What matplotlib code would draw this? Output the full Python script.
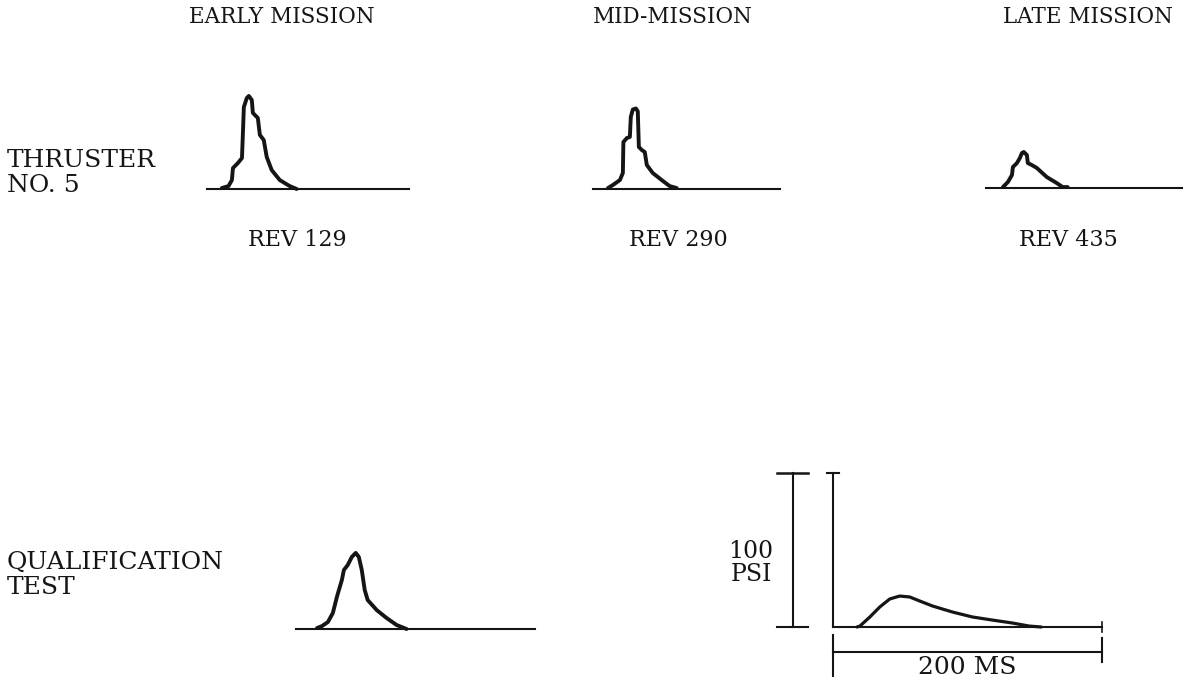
import numpy as np
from matplotlib import pyplot as plt

# chamber pressure traces, time in ms from start of baseline, pressure in psi
early_t = [11, 16, 18.5, 19.3, 23, 26, 26.7, 27.4, 29.6, 31.1, 33.3, 34.1, 37.8, 39.3, 42.2, 44.4, 48.1, 54.1, 61.5, 66.7]
early_p = [0.6, 1.9, 5.8, 13.6, 16.9, 20.1, 36.4, 53.2, 59.1, 60.4, 57.8, 49.4, 46.1, 35.1, 31.8, 20.8, 12.3, 5.8, 1.9, 0]

mid_t = [11.1, 14.8, 20.0, 22.2, 22.6, 25.2, 27.4, 28.1, 29.6, 31.9, 33.3, 34.1, 36.3, 38.5, 40.0, 44.4, 51.1, 57.0, 62.2]
mid_p = [0.6, 2.6, 5.8, 10.4, 30.5, 33.1, 33.8, 46.8, 51.6, 52.3, 50.4, 27.3, 25.3, 24.0, 15.6, 10.4, 5.8, 1.9, 0.6]

late_t = [12.6, 16.3, 19.3, 20.0, 23.0, 25.2, 26.7, 28.1, 30.4, 31.1, 34.1, 37.8, 45.2, 52.6, 57.0, 60.7]
late_p = [0.6, 3.9, 8.4, 13.6, 16.2, 19.5, 22.7, 23.4, 21.4, 16.2, 14.9, 13.0, 7.1, 3.2, 0.6, 0.6]

qual_t = [15.6, 19.3, 23.7, 27.4, 30.4, 31.9, 34.1, 35.6, 38.5, 41.5, 44.4, 46.7, 48.9, 51.1, 53.3, 60.0, 67.4, 74.8, 82.2]
qual_p = [0.6, 1.9, 4.5, 10.4, 20.8, 25.3, 31.8, 38.3, 41.6, 46.8, 49.4, 46.8, 38.3, 25.3, 18.8, 12.3, 7.1, 2.6, 0]

ref_t = [17.8, 20.0, 27.4, 34.8, 42.2, 49.6, 57.0, 64.4, 74.1, 88.9, 103.7, 118.5, 133.3, 145.9, 154.8]
ref_p = [0, 0.6, 6.5, 13.0, 18.2, 20.1, 19.5, 16.9, 13.6, 9.7, 6.5, 4.5, 2.6, 0.6, 0]

col_titles = ['EARLY MISSION', 'MID-MISSION', 'LATE MISSION']
rev_labels = ['REV 129', 'REV 290', 'REV 435']
row_labels = ['THRUSTER\nNO. 5', 'QUALIFICATION\nTEST']
scale_ms = 200
scale_psi = 100

W, H = 1201, 677
PX_MS = 1.345
PX_PSI = 1.54
INK = '#151515'

plt.rcParams['font.family'] = ['DejaVu Serif']
fig = plt.figure(figsize=(W / 100, H / 100), dpi=100)


def px_text(x, y, s, size=15, **kw):
    fig.text(x / W, 1 - y / H, s, color=INK, fontsize=size, **kw)


def trace_axes(x0, y0, xmin, xmax, ymin, ymax):
    left = (x0 + xmin * PX_MS) / W
    bottom = 1 - (y0 - ymin * PX_PSI) / H
    ax = fig.add_axes([left, bottom, (xmax - xmin) * PX_MS / W, (ymax - ymin) * PX_PSI / H])
    ax.set_xlim(xmin, xmax)
    ax.set_ylim(ymin, ymax)
    ax.axis('off')
    return ax


def panel(x0, y0, length, t, p):
    ax = trace_axes(x0, y0, 0, length, 0, 70)
    ax.plot([0, length], [0, 0], color=INK, lw=1.5, clip_on=False)
    ax.plot(t, p, color=INK, lw=2.8, clip_on=False, solid_joinstyle='round', solid_capstyle='round')
    return ax


panel(207, 189, 150, early_t, early_p)
panel(593, 189, 139, mid_t, mid_p)
panel(986, 188, 146, late_t, late_p)
panel(296, 629, 178, qual_t, qual_p)

# reference trace with scale bars
ax = trace_axes(833, 627, 0, scale_ms, 0, scale_psi)
ax.plot(ref_t, ref_p, color=INK, lw=2.3, clip_on=False, solid_capstyle='round')
ax.plot([0, scale_ms], [0, 0], color=INK, lw=1.5, clip_on=False)
ax.plot([scale_ms, scale_ms], [-3, 3], color=INK, lw=1.2, clip_on=False)
ax.plot([0, 0], [0, scale_psi], color=INK, lw=1.5, clip_on=False)
ax.plot([-4.5, 4.5], [scale_psi, scale_psi], color=INK, lw=1.5, clip_on=False)
# psi bar
ax.plot([-30, -30], [0, scale_psi], color=INK, lw=1.5, clip_on=False)
ax.plot([-41.5, -18.5], [scale_psi, scale_psi], color=INK, lw=1.8, clip_on=False)
ax.plot([-41.5, -18.5], [0, 0], color=INK, lw=1.5, clip_on=False)
# ms bar
ax.plot([0, scale_ms], [-16, -16], color=INK, lw=1.5, clip_on=False)
ax.plot([0, 0], [-5, -34], color=INK, lw=1.5, clip_on=False)
ax.plot([scale_ms, scale_ms], [-7, -23], color=INK, lw=1.5, clip_on=False)
ax.text(scale_ms / 2, -26, f'{scale_ms} MS', ha='center', va='center', color=INK, fontsize=18)

# labels
for x, s in zip([282, 673, 1088], col_titles):
    px_text(x, 17, s, size=15.5, ha='center', va='center')
for x, s in zip([297, 678, 1068], rev_labels):
    px_text(x, 240, s, size=16, ha='center', va='center')
px_text(7, 173, row_labels[0], size=18, ha='left', va='center', linespacing=1.1)
px_text(7, 575, row_labels[1], size=18, ha='left', va='center', linespacing=1.1)
px_text(751, 563, f'{scale_psi}\nPSI', size=17, ha='center', va='center', linespacing=1.05)

fig.savefig('out.png', dpi=100, facecolor='white')
